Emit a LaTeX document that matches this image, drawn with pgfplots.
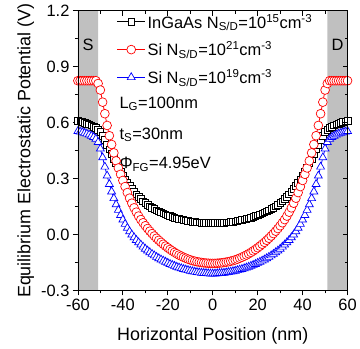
\documentclass[border=0pt]{standalone}
\usepackage{pgfplots}
\pgfplotsset{compat=1.18}
\usepackage{pgfplotstable}
\usepackage{fontspec}
\setmainfont{Liberation Sans}

\definecolor{shade}{RGB}{192,192,192}

% x (nm), InGaAs 1e15, Si 1e21, Si 1e19 potentials (V)
\pgfplotstableread{
x ingaas sihi silo
-60 0.610 0.825 0.554
-59 0.607 0.825 0.551
-58 0.603 0.825 0.548
-57 0.599 0.825 0.544
-56 0.595 0.825 0.540
-55 0.590 0.825 0.535
-54 0.585 0.825 0.529
-53 0.579 0.825 0.522
-52 0.572 0.825 0.513
-51 0.563 0.810 0.495
-50 0.550 0.775 0.460
-49 0.530 0.710 0.413
-48 0.507 0.648 0.363
-47 0.482 0.585 0.315
-46 0.457 0.530 0.270
-45 0.432 0.483 0.230
-44 0.407 0.438 0.194
-43 0.383 0.395 0.161
-42 0.360 0.357 0.131
-41 0.338 0.323 0.104
-40 0.317 0.290 0.079
-39 0.297 0.257 0.056
-38 0.278 0.225 0.035
-37 0.260 0.195 0.016
-36 0.244 0.168 -0.001
-35 0.229 0.143 -0.016
-34 0.215 0.120 -0.030
-33 0.202 0.099 -0.043
-32 0.190 0.080 -0.055
-31 0.179 0.063 -0.066
-30 0.169 0.047 -0.077
-29 0.160 0.032 -0.087
-28 0.152 0.018 -0.096
-27 0.144 0.005 -0.105
-26 0.137 -0.008 -0.113
-25 0.130 -0.020 -0.121
-24 0.124 -0.031 -0.128
-23 0.118 -0.042 -0.135
-22 0.113 -0.052 -0.141
-21 0.108 -0.062 -0.147
-20 0.103 -0.071 -0.153
-19 0.099 -0.080 -0.159
-18 0.095 -0.088 -0.164
-17 0.091 -0.096 -0.169
-16 0.087 -0.103 -0.174
-15 0.084 -0.110 -0.178
-14 0.081 -0.116 -0.182
-13 0.078 -0.122 -0.186
-12 0.075 -0.127 -0.189
-11 0.073 -0.132 -0.192
-10 0.071 -0.136 -0.195
-9 0.069 -0.140 -0.198
-8 0.067 -0.143 -0.200
-7 0.066 -0.146 -0.202
-6 0.065 -0.148 -0.204
-5 0.064 -0.150 -0.206
-4 0.063 -0.152 -0.207
-3 0.063 -0.153 -0.208
-2 0.062 -0.154 -0.209
-1 0.062 -0.155 -0.210
0 0.062 -0.155 -0.210
1 0.062 -0.155 -0.210
2 0.062 -0.154 -0.209
3 0.063 -0.153 -0.208
4 0.063 -0.152 -0.207
5 0.064 -0.150 -0.206
6 0.065 -0.148 -0.204
7 0.066 -0.146 -0.202
8 0.067 -0.143 -0.200
9 0.069 -0.140 -0.198
10 0.071 -0.136 -0.195
11 0.073 -0.132 -0.192
12 0.075 -0.127 -0.189
13 0.078 -0.122 -0.186
14 0.081 -0.116 -0.182
15 0.084 -0.110 -0.178
16 0.087 -0.103 -0.174
17 0.091 -0.096 -0.169
18 0.095 -0.088 -0.164
19 0.099 -0.080 -0.159
20 0.103 -0.071 -0.153
21 0.108 -0.062 -0.147
22 0.113 -0.052 -0.141
23 0.118 -0.042 -0.135
24 0.124 -0.031 -0.128
25 0.130 -0.020 -0.121
26 0.137 -0.008 -0.113
27 0.144 0.005 -0.105
28 0.152 0.018 -0.096
29 0.160 0.032 -0.087
30 0.169 0.047 -0.077
31 0.179 0.063 -0.066
32 0.190 0.080 -0.055
33 0.202 0.099 -0.043
34 0.215 0.120 -0.030
35 0.229 0.143 -0.016
36 0.244 0.168 -0.001
37 0.260 0.195 0.016
38 0.278 0.225 0.035
39 0.297 0.257 0.056
40 0.317 0.290 0.079
41 0.338 0.323 0.104
42 0.360 0.357 0.131
43 0.383 0.395 0.161
44 0.407 0.438 0.194
45 0.432 0.483 0.230
46 0.457 0.530 0.270
47 0.482 0.585 0.315
48 0.507 0.648 0.363
49 0.530 0.710 0.413
50 0.550 0.775 0.460
51 0.563 0.810 0.495
52 0.572 0.825 0.513
53 0.579 0.825 0.522
54 0.585 0.825 0.529
55 0.590 0.825 0.535
56 0.595 0.825 0.540
57 0.599 0.825 0.544
58 0.603 0.825 0.548
59 0.607 0.825 0.551
60 0.610 0.825 0.554
}\potential

\pgfplotsset{
  frame/.style={
    width=270bp, height=280bp, scale only axis,
    xmin=-60, xmax=60, ymin=-0.3, ymax=1.2,
    xtick={-60,-40,...,60}, ytick={-0.3,0,0.3,0.6,0.9,1.2},
    minor x tick num=1, minor y tick num=1,
    major tick length=5bp, minor tick length=3bp,
    tick style={black, line width=0.7pt},
    axis line style={line width=0.8pt},
  },
}

\begin{document}
\begin{tikzpicture}
\begin{axis}[
  frame,
  xtick pos=bottom, ytick pos=left, tick align=outside,
  /pgf/number format/assume math mode=true,
  yticklabel style={/pgf/number format/.cd, fixed, fixed zerofill, precision=1},
  ticklabel style={font=\fontsize{16.5}{18}\selectfont},
  label style={font=\fontsize{18}{20}\selectfont},
  xlabel={Horizontal Position (nm)},
  ylabel={Equilibrium Electrostatic Potential (V)},
  xlabel style={at={(axis description cs:0.5,-0.161)}, anchor=center},
  ylabel style={at={(axis description cs:-0.193,0.5)}, anchor=center},
  legend cell align=left,
  legend image code/.code={\draw[mark repeat=2, mark phase=2]
    plot coordinates {(0bp,0bp) (14bp,0bp) (28bp,0bp)};},
  legend style={draw=none, fill=none, at={(0.14,1.0)}, anchor=north west,
    font=\fontsize{16.5}{18}\selectfont, row sep=8bp, inner sep=1bp},
]
\coordinate (sw) at (rel axis cs:0,0);
\coordinate (ne) at (rel axis cs:1,1);
% source and drain regions
\addplot[fill=shade, draw=none, forget plot] coordinates {(-60,-0.3) (-51,-0.3) (-51,1.2) (-60,1.2)} \closedcycle;
\addplot[fill=shade, draw=none, forget plot] coordinates {(51,-0.3) (60,-0.3) (60,1.2) (51,1.2)} \closedcycle;

\addplot[black, line width=0.8pt, mark=square*, mark size=3.3bp,
  mark options={fill=white, line width=0.7pt}, forget plot]
  table[x=x, y=ingaas] {\potential};
\addplot[blue, line width=0.8pt, mark=triangle*, mark size=4.6bp,
  mark options={fill=white, line width=0.7pt}, forget plot]
  table[x=x, y=silo] {\potential};
\addplot[red, line width=0.8pt, mark=*, mark size=4.4bp,
  mark options={fill=white, line width=0.7pt}, forget plot]
  table[x=x, y=sihi] {\potential};

\addlegendimage{black, line width=0.8pt, mark=square*, mark size=3.3bp, mark options={fill=white, line width=0.7pt}}
\addlegendentry{InGaAs N\textsubscript{S/D}=10\textsuperscript{15}cm\textsuperscript{-3}}
\addlegendimage{red, line width=0.8pt, mark=*, mark size=4.4bp, mark options={fill=white, line width=0.7pt}}
\addlegendentry{Si N\textsubscript{S/D}=10\textsuperscript{21}cm\textsuperscript{-3}}
\addlegendimage{blue, line width=0.8pt, mark=triangle*, mark size=4.6bp, mark options={fill=white, line width=0.7pt}}
\addlegendentry{Si N\textsubscript{S/D}=10\textsuperscript{19}cm\textsuperscript{-3}}

\node[anchor=west, font=\fontsize{16.5}{18}\selectfont] at (axis cs:-43,0.70) {L\textsubscript{G}=100nm};
\node[anchor=west, font=\fontsize{16.5}{18}\selectfont] at (axis cs:-43,0.535) {t\textsubscript{S}=30nm};
\node[anchor=west, font=\fontsize{16.5}{18}\selectfont] at (axis cs:-43,0.375) {Φ\textsubscript{FG}=4.95eV};
\node[font=\fontsize{16.5}{18}\selectfont] at (axis cs:-55.5,1.02) {S};
\node[font=\fontsize{16.5}{18}\selectfont] at (axis cs:55.5,1.02) {D};
\end{axis}
% mirrored ticks on top and right, pointing inward
\begin{axis}[
  frame,
  xtick pos=top, ytick pos=right, tick align=inside,
  xticklabels={}, yticklabels={},
]
\end{axis}
% page margins around the plot area
\path ([xshift=-78bp, yshift=-58bp]sw) rectangle ([xshift=12bp, yshift=9bp]ne);
\end{tikzpicture}
\end{document}
